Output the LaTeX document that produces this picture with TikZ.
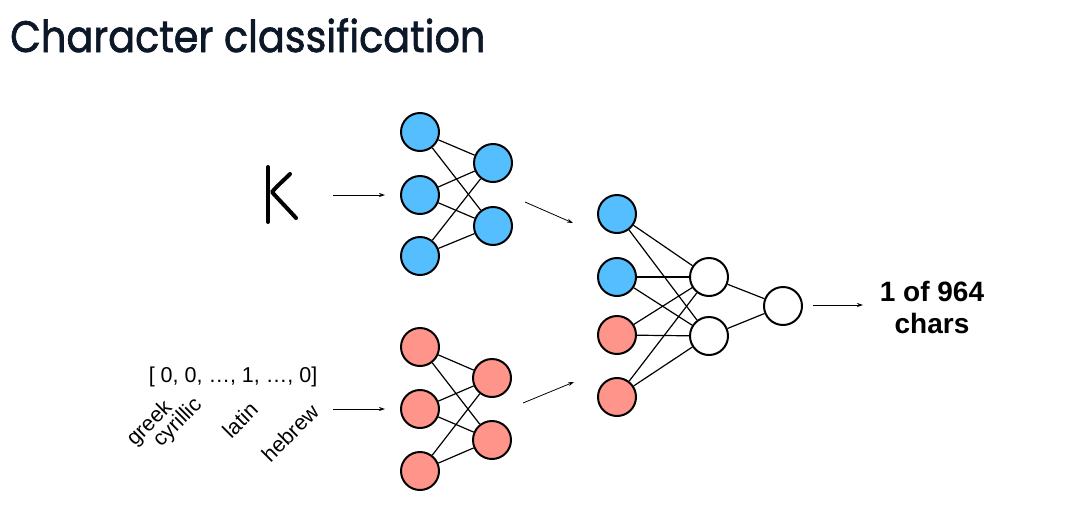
\documentclass[tikz,border=0pt]{standalone}
\usepackage{fontspec}
\setmainfont{Liberation Sans}
\newfontfamily\titlefont[FakeBold=1.6]{Poppins}
\usetikzlibrary{arrows.meta}
\definecolor{nblue}{RGB}{85,190,255}
\definecolor{nred}{RGB}{255,148,138}
\definecolor{titlecol}{RGB}{12,24,40}
\begin{document}
\begin{tikzpicture}[x=1pt,y=-1pt,
  neuron/.style={circle,draw=black,line width=2pt,minimum size=38pt,inner sep=0pt},
  bneuron/.style={neuron,fill=nblue},
  rneuron/.style={neuron,fill=nred},
  wneuron/.style={neuron,fill=white},
  link/.style={line width=1.2pt},
  flow/.style={line width=0.8pt,-{Stealth[length=6pt,width=4pt]}},
  lbl/.style={font=\fontsize{21.5}{25}\selectfont,inner sep=0pt},
  rlbl/.style={lbl,rotate=45,anchor=center},
  pen/.style={line width=4pt,line cap=round,line join=round}
]
\useasboundingbox (0,0) rectangle (1069,517);

\node[anchor=base west,font=\titlefont\fontsize{44}{50}\selectfont,text=titlecol,inner sep=0pt] (title) at (10,52) {\scalebox{0.905}[1]{Character classification}};

% handwritten K
\draw[pen] (268,167) -- (268,222);
\draw[pen] (290,174) .. controls (284,180) and (277,186) .. (272,192) .. controls (280,201) and (288,209) .. (296,218);

% top network
\node[bneuron] (t1) at (420,132) {};
\node[bneuron] (t2) at (420,195) {};
\node[bneuron] (t3) at (420,256) {};
\node[bneuron] (t4) at (493,163) {};
\node[bneuron] (t5) at (493,226) {};
\foreach \a in {t1,t2,t3} \foreach \b in {t4,t5} \draw[link] (\a) -- (\b);

% bottom network
\node[rneuron] (b1) at (420,347) {};
\node[rneuron] (b2) at (420,409) {};
\node[rneuron] (b3) at (420,471) {};
\node[rneuron] (b4) at (492,378) {};
\node[rneuron] (b5) at (492,440) {};
\foreach \a in {b1,b2,b3} \foreach \b in {b4,b5} \draw[link] (\a) -- (\b);

% merged network
\node[bneuron] (m1) at (617,214) {};
\node[bneuron] (m2) at (617,277) {};
\node[rneuron] (m3) at (617,335) {};
\node[rneuron] (m4) at (617,397) {};
\node[wneuron] (h1) at (709,277) {};
\node[wneuron] (h2) at (709,336) {};
\node[wneuron] (o) at (783,306) {};
\foreach \a in {m1,m2,m3,m4} \foreach \b in {h1,h2} \draw[link] (\a) -- (\b);
\draw[link] (h1) -- (o);
\draw[link] (h2) -- (o);

% arrows
\coordinate (ka) at (333,195);
\coordinate (kb) at (385,195);
\draw[flow] (ka) -- (kb);
\coordinate (va) at (333,409);
\coordinate (vb) at (385,409);
\draw[flow] (va) -- (vb);
\coordinate (ta) at (525,202);
\coordinate (tb) at (573,223);
\draw[flow] (ta) -- (tb);
\coordinate (ba) at (523,403);
\coordinate (bb) at (574,382);
\draw[flow] (ba) -- (bb);
\coordinate (oa) at (813,305);
\coordinate (ob) at (863,305);
\draw[flow] (oa) -- (ob);

% labels
\node[align=center,font=\bfseries\fontsize{28}{32}\selectfont,inner sep=0pt] (out) at (932,307) {1 of 964\\chars};
\node[lbl,anchor=base] (vec) at (233,382) {[ 0, 0, …, 1, …, 0]};
\node[rlbl] (greek) at (150,424) {greek};
\node[rlbl] (cyr) at (178,423) {cyrillic};
\node[rlbl] (latin) at (240,420) {latin};
\node[rlbl] (hebrew) at (290,433) {hebrew};
\end{tikzpicture}
\end{document}
